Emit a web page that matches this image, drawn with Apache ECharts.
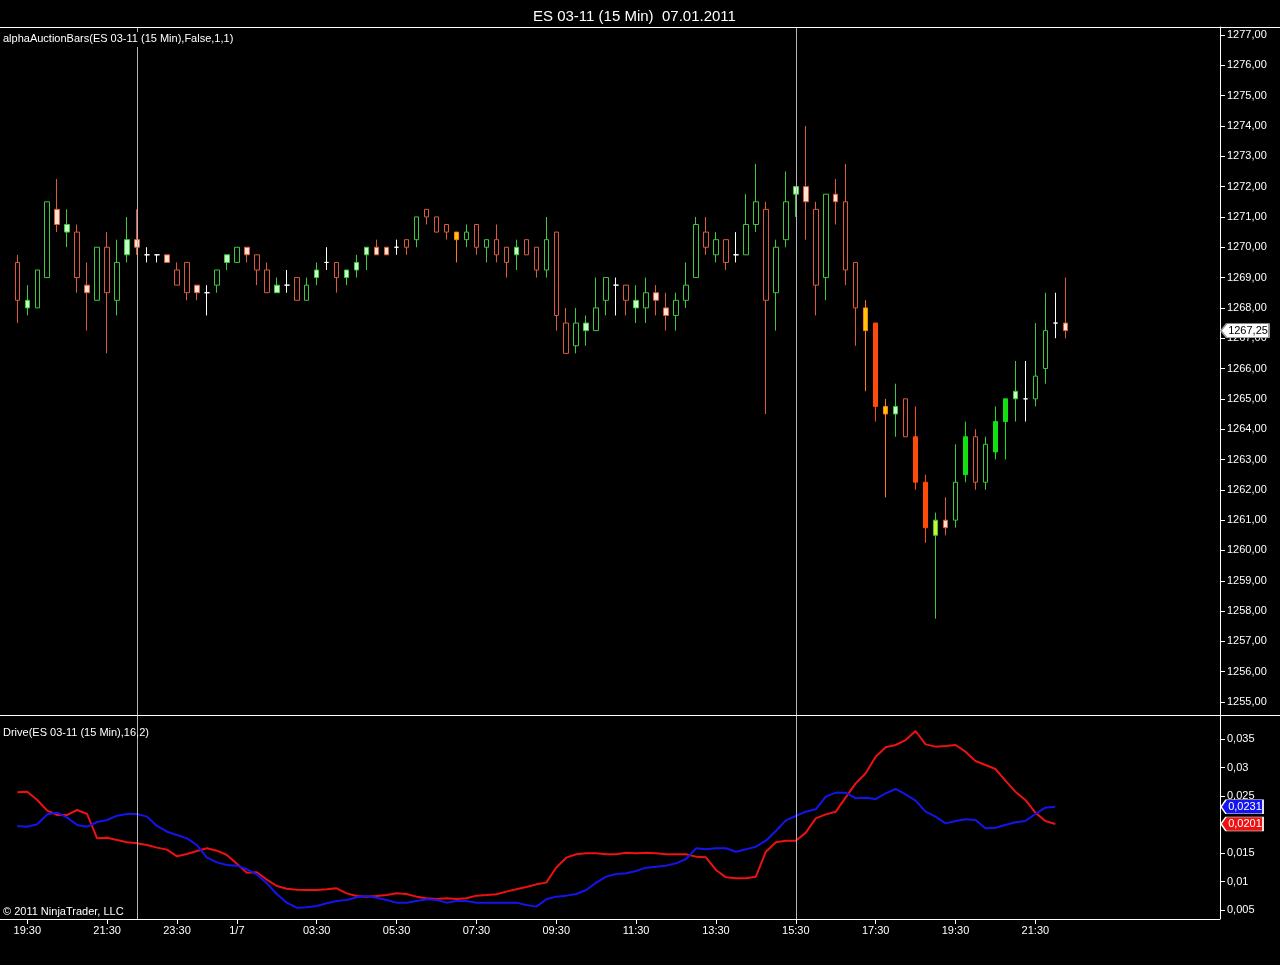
<!DOCTYPE html>
<html><head><meta charset="utf-8">
<script src="https://cdn.jsdelivr.net/npm/echarts@6/dist/echarts.min.js"></script>
<style>html,body{margin:0;padding:0;background:#000}#c{width:1280px;height:965px}</style>
</head><body><div id="c"></div>
<script>
// ---------- data ----------
const times = ['19:15','19:30','19:45','20:00','20:15','20:30','20:45','21:00','21:15','21:30',
'21:45','22:00','22:15','22:30','22:45','23:00','23:30','23:45','00:00','00:15',
'00:30','01:15','01:30','01:45','02:00','02:15','02:30','02:45','03:00','03:15',
'03:30','03:45','04:00','04:15','04:30','04:45','05:00','05:15','05:30','05:45',
'06:00','06:15','06:30','06:45','07:00','07:15','07:30','07:45','08:00','08:15',
'08:30','08:45','09:00','09:15','09:30','09:45','10:00','10:15','10:30','10:45',
'11:00','11:15','11:30','11:45','12:00','12:15','12:30','12:45','13:00','13:15',
'13:30','13:45','14:00','14:15','14:30','14:45','15:00','15:15','15:30','15:45',
'16:00','16:15','16:30','16:45','17:00','17:15','17:30','17:45','18:00','18:15',
'18:30','18:45','19:00','19:15','19:30','19:45','20:00','20:15','20:30','20:45',
'21:00','21:15','21:30','21:45','22:00','22:15'];
const tickIndex = [1,9,16,22,30,38,46,54,62,70,78,86,94,102];
const tickText = ['19:30','21:30','23:30','1/7','03:30','05:30','07:30','09:30','11:30','13:30','15:30','17:30','19:30','21:30'];

const open = [1269.5,1268,1268,1269,1271.25,1270.5,1270.5,1268.75,1268.25,1270,
1268.25,1269.75,1270.25,1269.75,1269.75,1269.75,1269.25,1269.5,1268.75,1268.5,
1268.75,1269.5,1269.5,1270,1269.75,1269.25,1268.5,1268.75,1269,1268.25,
1269,1269.5,1269.5,1269,1269.25,1269.75,1270,1270,1270,1270.25,
1270.25,1271.25,1271,1270.75,1270.5,1270.25,1270.75,1270,1270.25,1270,
1269.75,1270.25,1270,1269.25,1270.5,1267.5,1266.75,1267.25,1267.25,1268.25,
1268.75,1268.75,1268,1268,1268.5,1268,1267.75,1268.25,1269,1270.5,
1269.75,1270.25,1269.75,1269.75,1270.75,1271.25,1268.5,1270.25,1271.75,1272,
1271.25,1269,1271.75,1271.5,1269.5,1268,1267.5,1264.75,1264.5,1265,
1263.75,1262.25,1260.5,1261,1261,1262.5,1263.75,1262.25,1263.25,1264.25,
1265,1265,1265,1266,1267.5,1267.5];
const close = [1268.25,1268.25,1269.25,1271.5,1270.75,1270.75,1269,1268.5,1270,1268.5,
1269.5,1270.25,1270,1269.75,1269.75,1269.5,1268.75,1268.5,1268.5,1268.5,
1269.25,1269.75,1270,1269.75,1269.25,1268.5,1268.75,1268.75,1268.25,1268.75,
1269.25,1269.5,1269,1269.25,1269.5,1270,1269.75,1269.75,1270,1270,
1271,1271,1270.5,1270.5,1270.25,1270.5,1270,1270.25,1269.75,1269.5,
1270,1269.75,1269.25,1270.25,1267.75,1266.5,1267.5,1267.5,1268,1269,
1268.75,1268.25,1268.25,1268.5,1268.25,1267.75,1268.25,1268.75,1270.75,1270,
1270.25,1269.5,1269.75,1270.75,1271.5,1268.25,1270,1271.5,1272,1271.5,
1268.75,1271.75,1271.5,1269.25,1268,1267.25,1264.75,1264.5,1264.75,1263.75,
1262.25,1260.75,1261,1260.75,1262.25,1263.75,1262.25,1263.5,1264.25,1265,
1265.25,1265,1265.75,1267.25,1267.5,1267.25];
const low = [1267.5,1267.75,1268,1269,1270.5,1270,1268.5,1267.25,1268.25,1266.5,
1267.75,1269.5,1269.75,1269.5,1269.5,1269.5,1268.75,1268.25,1268.25,1267.75,
1268.5,1269.25,1269.5,1269.5,1268.75,1268.5,1268.5,1268.5,1268.25,1268.25,
1268.75,1269.25,1268.5,1268.75,1269,1269.25,1269.75,1269.75,1269.75,1269.75,
1270,1270.75,1270.5,1270.25,1269.5,1270,1269.75,1269.5,1269.5,1269,
1269.25,1269.75,1269,1269,1267.25,1266.5,1266.5,1266.75,1267.25,1267.75,
1267.75,1267.75,1267.5,1267.5,1267.75,1267.25,1267.25,1268,1269,1269.75,
1269.5,1269.25,1269.5,1269.75,1270.5,1264.5,1267.25,1270,1271,1270.25,
1267.75,1268.25,1270.75,1268.75,1266.75,1265.25,1264.25,1261.75,1263.75,1263.75,
1262,1260.25,1257.75,1260.5,1260.75,1262.25,1262,1262,1263,1263,
1264.25,1264.25,1264.75,1265.5,1267,1267];
const high = [1269.75,1268.75,1269.25,1271.5,1272.25,1271.25,1270.75,1269.5,1270,1270.5,
1270.25,1271,1271.25,1270,1269.75,1269.75,1269.5,1269.5,1268.75,1268.75,
1269.25,1269.75,1270,1270,1269.75,1269.5,1269,1269.25,1269,1269,
1269.5,1270,1269.5,1269.25,1269.75,1270,1270.25,1270,1270.25,1270.25,
1271,1271.25,1271,1270.75,1270.5,1270.75,1270.75,1270.25,1270.75,1270,
1270.25,1270.25,1270,1271,1270.5,1268,1268,1267.75,1269,1269,
1269,1268.75,1268.75,1269,1268.75,1268.5,1268.5,1269.5,1271,1271,
1270.5,1270.25,1270.5,1271.75,1272.75,1271.5,1270.25,1272.5,1272,1274,
1271.5,1271.75,1272.25,1272.75,1269.5,1268.25,1267.5,1265,1265.5,1265,
1264.75,1262.5,1261.25,1261.75,1263.5,1264.25,1264,1263.75,1264.75,1265,
1266.25,1266.25,1267.5,1268.5,1268.5,1269];
// bar state of the auction-bars indicator
const barState = ['dn','upS','up','up','dnS','upS','dn','dnS','up','dn',
'up','upS','dnS','doji','doji','dnS','dn','dn','dnS','doji',
'up','upS','up','dnS','dn','dn','upS','doji','dn','up',
'upS','doji','dn','upS','upS','upS','dnS','dnS','doji','dn',
'up','dn','dn','dn','yel','up','dn','up','dn','dn',
'upS','dn','dn','up','dn','dn','up','upS','up','up',
'doji','dn','upS','up','dnS','dnS','up','up','up','dn',
'up','dn','doji','up','up','dn','up','up','upS','dnS',
'dn','up','dnS','dn','dn','yel','dnF','yel','upS','dn',
'dnF','dnF','yg','dnS','up','upF','dn','up','upF','upF',
'upS','doji','up','up','doji','dnS'];

const driveRed = [0.02564,0.02576,0.02430,0.02243,0.02167,0.02167,0.02254,0.02184,0.01757,0.01769,
0.01728,0.01687,0.01670,0.01640,0.01594,0.01559,0.01442,0.01483,0.01535,0.01582,
0.01541,0.01465,0.01313,0.01155,0.01161,0.01032,0.00921,0.00874,0.00857,0.00851,
0.00851,0.00863,0.00880,0.00792,0.00746,0.00734,0.00746,0.00763,0.00792,0.00781,
0.00734,0.00705,0.00693,0.00705,0.00693,0.00705,0.00752,0.00763,0.00775,0.00822,
0.00863,0.00904,0.00950,0.00980,0.01245,0.01418,0.01477,0.01494,0.01494,0.01477,
0.01477,0.01506,0.01494,0.01506,0.01494,0.01477,0.01477,0.01477,0.01436,0.01424,
0.01202,0.01073,0.01056,0.01056,0.01085,0.01523,0.01687,0.01716,0.01716,0.01857,
0.02108,0.02178,0.02225,0.02477,0.02722,0.02898,0.03190,0.03354,0.03395,0.03482,
0.03640,0.03406,0.03366,0.03377,0.03395,0.03278,0.03114,0.03044,0.02974,0.02769,
0.02576,0.02430,0.02208,0.02061,0.02010,null];
const driveBlue = [0.01974,0.01962,0.02003,0.02178,0.02208,0.02120,0.01991,0.01962,0.02044,0.02079,
0.02155,0.02184,0.02184,0.02138,0.01974,0.01874,0.01816,0.01757,0.01640,0.01418,
0.01336,0.01290,0.01278,0.01214,0.01126,0.00968,0.00781,0.00629,0.00541,0.00547,
0.00570,0.00617,0.00658,0.00676,0.00722,0.00746,0.00716,0.00676,0.00629,0.00629,
0.00658,0.00687,0.00676,0.00629,0.00658,0.00658,0.00629,0.00629,0.00629,0.00629,
0.00629,0.00588,0.00559,0.00687,0.00734,0.00752,0.00781,0.00851,0.00980,0.01085,
0.01132,0.01143,0.01184,0.01243,0.01260,0.01278,0.01319,0.01395,0.01582,0.01564,
0.01582,0.01582,0.01523,0.01564,0.01611,0.01716,0.01886,0.02073,0.02149,0.02225,
0.02266,0.02488,0.02558,0.02558,0.02459,0.02471,0.02447,0.02547,0.02623,0.02529,
0.02418,0.02225,0.02138,0.02020,0.02061,0.02091,0.02079,0.01933,0.01944,0.01991,
0.02038,0.02061,0.02184,0.02295,0.02313,null];
const sessionBreaks = [12, 78];
const lastPrice = 1267.25, lastBlue = 0.0231, lastRed = 0.0201;

// ---------- styling ----------
const FONT = 'Liberation Sans';
const UP = '#3ec83e', DN = '#dc5a3c';
const stateStyle = {
  up:  [ '#000000', UP ],
  dn:  [ '#000000', DN ],
  upS: [ '#c8ffc8', UP ],
  dnS: [ '#ffe4d6', DN ],
  doji:[ '#ffffff', '#ffffff' ],
  yel: [ '#ffc800', '#ff7a1a' ],
  dnF: [ '#ff4a0a', '#ff4a0a' ],
  upF: [ '#12e012', '#12e012' ],
  yg:  [ '#d6f02a', UP ]
};
const PAD = 15;
const cats = times.concat(Array.from({length: PAD}, (_, k) => 'pad' + k));
const lastIdx = cats.length - 1;
const labelMap = {};
tickIndex.forEach((ix, k) => { labelMap[ix] = tickText[k]; });
const isTick = (index) => labelMap[index] !== undefined;

const candleData = open.map((o, i) => {
  const s = stateStyle[barState[i]];
  return { value: [o, close[i], low[i], high[i]],
    itemStyle: { color: s[0], color0: s[0], borderColor: s[1], borderColor0: s[1], borderColorDoji: s[1] } };
});

const tag = (value, text, fill, textColor, border, w, offX) => ({
  symbol: 'path://M0,7 L7,0 L60,0 L60,14 L7,14 Z',
  symbolSize: [w, 14],
  symbolKeepAspect: false,
  symbolOffset: [offX, 0],
  silent: true,
  itemStyle: { color: fill, borderColor: border, borderWidth: 1 },
  label: { show: true, position: 'inside', offset: [3, 0], formatter: text, color: textColor, fontSize: 11, fontFamily: FONT },
  data: [{ coord: [lastIdx, value] }]
});
const vLines = {
  silent: true, symbol: ['none', 'none'], animation: false,
  label: { show: false },
  lineStyle: { color: '#b4b4b4', width: 1, type: 'solid' },
  data: sessionBreaks.map(x => ({ xAxis: x }))
};

const axisY = (gi, min, max, split, fmt) => ({
  type: 'value', gridIndex: gi, position: 'right', min: min, max: max, splitNumber: split, scale: true,
  axisLine: { show: true, lineStyle: { color: '#ffffff', width: 1 } },
  axisTick: { show: true, length: 5, lineStyle: { color: '#ffffff' } },
  axisLabel: { color: '#ffffff', fontSize: 11, fontFamily: FONT, margin: 7, showMinLabel: false, showMaxLabel: false, formatter: fmt },
  splitLine: { show: false }
});

const W = 1207.7, L = 12.3;
const option = {
  backgroundColor: '#000000',
  animation: false,
  title: { text: 'ES 03-11 (15 Min)  07.01.2011', left: 528, top: 4,
    textStyle: { color: '#ffffff', fontSize: 15, fontWeight: 'normal', fontFamily: FONT } },
  grid: [
    { left: L, top: 27, width: W, height: 688 },
    { left: L, top: 715, width: W, height: 204 }
  ],
  xAxis: [
    { type: 'category', gridIndex: 0, data: cats, boundaryGap: true,
      axisLine: { show: false }, axisTick: { show: false }, axisLabel: { show: false }, splitLine: { show: false } },
    { type: 'category', gridIndex: 1, data: cats, boundaryGap: true,
      axisLine: { show: false },
      axisTick: { show: true, interval: isTick, alignWithLabel: true, length: 5, lineStyle: { color: '#ffffff' } },
      axisLabel: { interval: isTick, color: '#ffffff', fontSize: 11, fontFamily: FONT, margin: 6,
        formatter: (v, idx) => labelMap[idx] || '' },
      splitLine: { show: false } }
  ],
  yAxis: [
    axisY(0, 1254.573, 1277.264, 22, v => v.toFixed(2).replace('.', ',')),
    axisY(1, 0.00342, 0.03921, 7, v => String(Math.round(v * 1000) / 1000).replace('.', ','))
  ],
  graphic: [
    { type: 'line', shape: { x1: 0, y1: 27.5, x2: 1280, y2: 27.5 }, style: { stroke: '#ffffff', lineWidth: 1 }, z: 100 },
    { type: 'line', shape: { x1: 0, y1: 715.5, x2: 1280, y2: 715.5 }, style: { stroke: '#ffffff', lineWidth: 1 }, z: 100 },
    { type: 'line', shape: { x1: 0, y1: 919.5, x2: 1220, y2: 919.5 }, style: { stroke: '#ffffff', lineWidth: 1 }, z: 100 },
    { type: 'text', left: 3, top: 32, z: 100, style: { text: 'alphaAuctionBars(ES 03-11 (15 Min),False,1,1)', fill: '#ffffff', font: '11px "Liberation Sans"', backgroundColor: '#000000', padding: [1, 0, 3, 0] } },
    { type: 'text', left: 3, top: 727, z: 100, style: { text: 'Drive(ES 03-11 (15 Min),16,2)', fill: '#ffffff', font: '11px "Liberation Sans"' } },
    { type: 'text', left: 3, top: 906, z: 100, style: { text: '\u00a9 2011 NinjaTrader, LLC', fill: '#ffffff', font: '11px "Liberation Sans"' } }
  ],
  series: [
    { type: 'candlestick', xAxisIndex: 0, yAxisIndex: 0, data: candleData, barWidth: 5,
      itemStyle: { borderWidth: 1 },
      markLine: vLines,
      markPoint: tag(lastPrice, '1267,25', '#ffffff', '#000000', '#999999', 48, 30) },
    { type: 'line', xAxisIndex: 1, yAxisIndex: 1, data: driveRed, showSymbol: false, symbol: 'none',
      lineStyle: { color: '#ee1111', width: 2 }, itemStyle: { color: '#ee1111' },
      markLine: vLines,
      markPoint: tag(lastRed, '0,0201', '#ee1111', '#ffffff', '#ffffff', 42, 27) },
    { type: 'line', xAxisIndex: 1, yAxisIndex: 1, data: driveBlue, showSymbol: false, symbol: 'none',
      lineStyle: { color: '#1414ee', width: 2 }, itemStyle: { color: '#1414ee' },
      markPoint: tag(lastBlue, '0,0231', '#1414ee', '#ffffff', '#ffffff', 42, 27) }
  ]
};
const chart = echarts.init(document.getElementById('c'));
chart.setOption(option);
</script></body></html>
